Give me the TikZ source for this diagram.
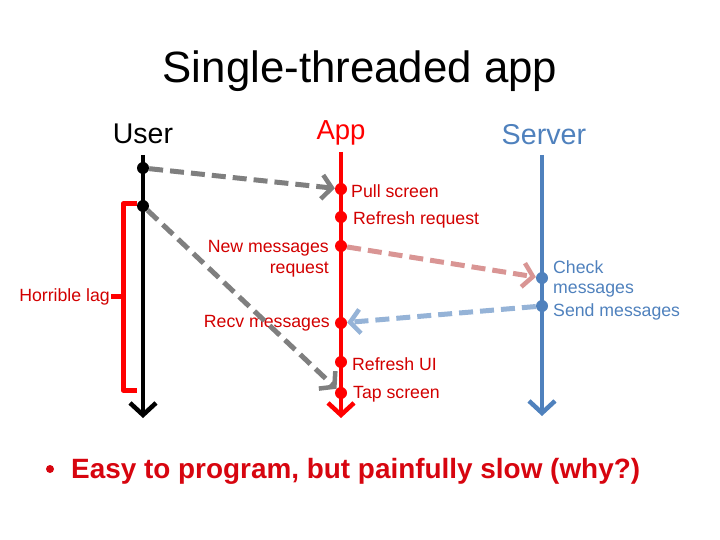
\documentclass[tikz,border=0pt]{standalone}
\usepackage{fontspec}
\setmainfont{Liberation Sans}
\usetikzlibrary{arrows.meta}
\definecolor{appred}{RGB}{255,0,0}
\definecolor{labred}{RGB}{210,0,0}
\definecolor{srvblue}{RGB}{79,129,189}
\definecolor{arrgray}{RGB}{127,127,127}
\definecolor{arrpink}{RGB}{217,149,148}
\definecolor{arrblue}{RGB}{149,179,215}
\definecolor{bulred}{RGB}{215,5,15}
\newcommand{\fs}[1]{\fontsize{#1}{#1}\selectfont}
\tikzset{
  lifeline/.style={line width=4.5pt,-{Straight Barb[length=12pt,width=26pt,line width=4.5pt]}},
  dotnode/.style={circle,fill=#1,inner sep=0pt,minimum size=12pt},
  msg/.style={line width=5pt,dash pattern=on 14pt off 7pt,color=#1,-{Straight Barb[length=10pt,width=24pt,line width=4.5pt]}},
  lbl/.style={text=#1,font=\fs{17.7},inner sep=0pt},
  hdr/.style={text=#1,font=\fs{27.5},inner sep=0pt}
}
\begin{document}
\begin{tikzpicture}[x=1pt,y=-1pt]
\useasboundingbox (0,0) rectangle (720,540);
% title
\node[font=\fs{43.8},inner sep=0pt] (title) at (360,71) {Single-threaded app};
\node[hdr=black,font=\fs{28.5}] (huser) at (143,134) {User};
\node[hdr=appred] (happ) at (341,133) {App};
\node[hdr=srvblue,font=\fs{28.7}] (hsrv) at (544,135) {Server};
% lifelines
\coordinate (ut) at (143,155); \coordinate (ub) at (143,418);
\coordinate (at) at (341,152); \coordinate (ab) at (341,418);
\coordinate (st) at (542,155); \coordinate (sb) at (542,416);
\draw[lifeline,black] (ut) -- (ub);
\draw[lifeline,appred] (at) -- (ab);
\draw[lifeline,srvblue] (st) -- (sb);
% bracket
\coordinate (b1) at (137,204); \coordinate (b2) at (123,204);
\coordinate (b3) at (123,390); \coordinate (b4) at (137,390);
\coordinate (bm) at (123,296); \coordinate (bl) at (111,296);
\draw[appred,line width=5pt,line join=round] (b1) -- (b2) -- (b3) -- (b4);
\draw[appred,line width=5pt] (bm) -- (bl);
\node[lbl=labred,anchor=east] (lag) at (110,297) {Horrible lag};
% dots
\node[dotnode=black] (u1) at (143,168) {};
\node[dotnode=black] (u2) at (143,206) {};
\node[dotnode=appred] (a1) at (341,189) {};
\node[dotnode=appred] (a2) at (341,217) {};
\node[dotnode=appred] (a3) at (341,246) {};
\node[dotnode=appred] (a4) at (341,323) {};
\node[dotnode=appred] (a5) at (341,362) {};
\node[dotnode=appred] (a6) at (341,393) {};
\node[dotnode=srvblue] (s1) at (542,278) {};
\node[dotnode=srvblue] (s2) at (542,306) {};
% labels
\node[lbl=labred,anchor=west] (l1) at (351,191) {Pull screen};
\node[lbl=labred,anchor=west] (l2) at (353,220) {Refresh request};
\node[lbl=labred,anchor=east,align=right] (l3) at (329,259) {New messages\\[3pt]request};
\node[lbl=labred,anchor=east] (l4) at (330,323) {Recv messages};
\node[lbl=labred,anchor=west] (l5) at (352,364) {Refresh UI};
\node[lbl=labred,anchor=west] (l6) at (353,394) {Tap screen};
\node[lbl=srvblue,anchor=west,align=left] (l7) at (553,279) {Check\\[3pt]messages};
\node[lbl=srvblue,anchor=west] (l8) at (553,312) {Send messages};
% messages
\draw[msg=arrgray] (u1) -- (a1);
\draw[msg=arrgray] (u2) -- (a6);
\draw[msg=arrpink] (a3) -- (s1);
\draw[msg=arrblue] (s2) -- (a4);
% bullet
\node[circle,fill=bulred,inner sep=0pt,minimum size=8pt] (dot) at (50,469) {};
\node[anchor=west,text=bulred,font=\fs{27.9}\bfseries,inner sep=0pt] (bul) at (71,471) {Easy to program, but painfully slow (why?)};
\end{tikzpicture}
\end{document}
